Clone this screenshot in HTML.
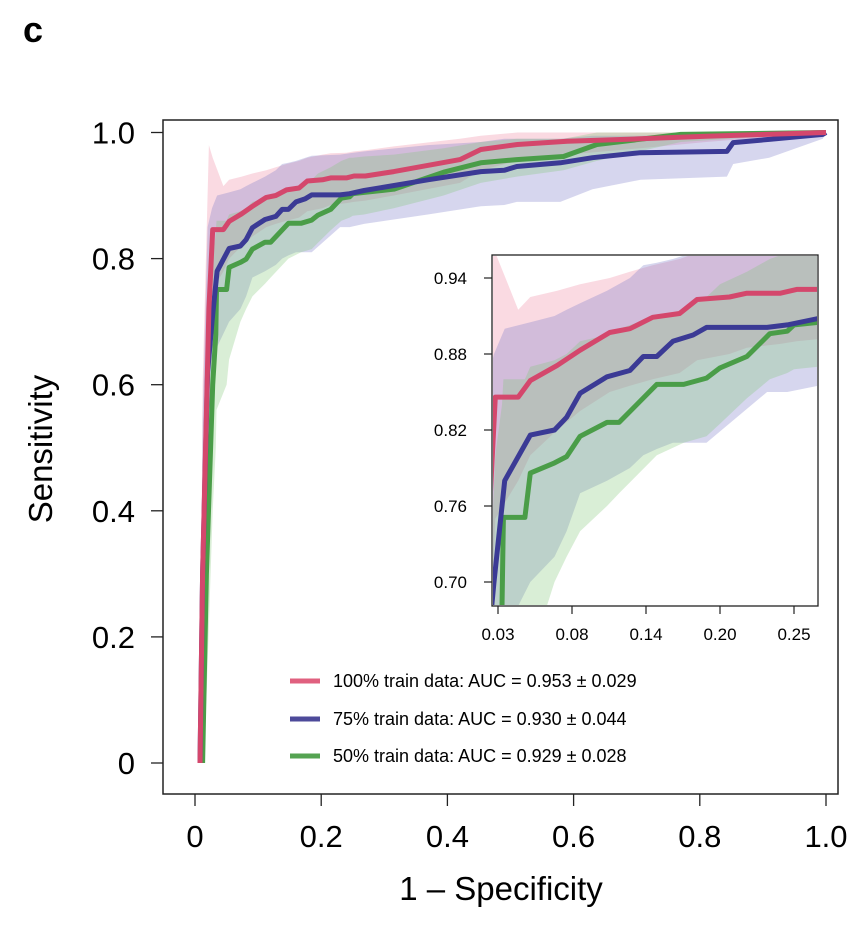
<!DOCTYPE html>
<html><head><meta charset="utf-8"><style>
html,body{margin:0;padding:0;background:#fff;overflow:hidden;width:862px;height:938px;}
svg{display:block;font-family:"Liberation Sans",Arial,sans-serif;}
</style></head><body>
<svg id="chart" width="862" height="938" viewBox="0 0 862 938">
<text x="23" y="42" font-size="36" font-weight="bold">c</text>
<defs>
<clipPath id="mainClip"><rect x="164" y="121" width="673" height="672"/></clipPath>
<clipPath id="insetClip"><rect x="493" y="256" width="324" height="349"/></clipPath>
</defs>
<g id="mainPlot"></g>
<rect x="163" y="120" width="675" height="674" fill="none" stroke="#222" stroke-width="1.5"/>
<g id="mainAxes"></g>
<text x="501" y="900" font-size="33" text-anchor="middle">1 – Specificity</text>
<text transform="translate(52,449) rotate(-90)" font-size="33" text-anchor="middle">Sensitivity</text>
<rect x="492" y="255" width="326" height="351" fill="#fff"/>
<g id="insetPlot"></g>
<rect x="492" y="255" width="326" height="351" fill="none" stroke="#222" stroke-width="1.3"/>
<g id="insetAxes"></g>
<g id="legend"></g>
</svg>
<script>
// ---- data ----
const redX = [0.008,0.012,0.022,0.028,0.045,0.054,0.074,0.091,0.113,0.128,0.145,0.165,0.178,0.202,0.215,0.24,0.252,0.27,0.315,0.42,0.453,0.511,0.59,0.706,0.81,1.0];
const redY = [0,0.3,0.72,0.846,0.846,0.859,0.871,0.883,0.897,0.90,0.909,0.912,0.923,0.925,0.928,0.928,0.931,0.931,0.938,0.957,0.973,0.981,0.986,0.99,0.994,1.0];
const redUpper = [0.05,0.6,0.98,0.96,0.915,0.925,0.93,0.935,0.94,0.945,0.95,0.955,0.96,0.965,0.967,0.968,0.97,0.972,0.978,0.99,0.995,1,1,1,1,1];
const redLower = [0,0.1,0.6,0.75,0.78,0.80,0.82,0.835,0.85,0.855,0.86,0.865,0.875,0.88,0.885,0.888,0.89,0.892,0.9,0.92,0.94,0.955,0.965,0.975,0.985,1];

const blueX = [0.008,0.012,0.02,0.027,0.035,0.054,0.072,0.081,0.091,0.111,0.128,0.138,0.148,0.16,0.175,0.185,0.23,0.245,0.268,0.369,0.453,0.49,0.51,0.579,0.63,0.706,0.843,0.853,0.91,0.995,1.0];
const blueY = [0,0.3,0.62,0.70,0.78,0.816,0.82,0.83,0.849,0.862,0.867,0.878,0.878,0.89,0.895,0.901,0.901,0.903,0.908,0.925,0.938,0.94,0.946,0.952,0.96,0.968,0.970,0.984,0.989,0.997,1.0];
const blueUpper = [0.05,0.55,0.85,0.88,0.90,0.905,0.91,0.915,0.92,0.93,0.94,0.95,0.952,0.955,0.96,0.963,0.965,0.967,0.97,0.98,0.985,0.99,0.99,0.99,0.995,0.995,1,1,1,1,1];
const blueLower = [0,0.1,0.45,0.6,0.66,0.70,0.72,0.74,0.77,0.78,0.79,0.80,0.805,0.81,0.81,0.81,0.85,0.85,0.855,0.87,0.883,0.885,0.89,0.89,0.91,0.925,0.93,0.95,0.96,0.99,1];

const greenX = [0.012,0.018,0.028,0.033,0.034,0.05,0.054,0.072,0.081,0.091,0.111,0.12,0.148,0.168,0.185,0.195,0.215,0.232,0.245,0.25,0.268,0.315,0.394,0.453,0.51,0.584,0.637,0.77,1.0];
const greenY = [0,0.3,0.6,0.68,0.751,0.751,0.786,0.794,0.799,0.815,0.826,0.826,0.856,0.856,0.861,0.869,0.878,0.896,0.898,0.903,0.905,0.91,0.937,0.952,0.957,0.962,0.981,0.997,1.0];
const greenUpper = [0.05,0.55,0.8,0.84,0.86,0.86,0.87,0.875,0.88,0.89,0.895,0.9,0.91,0.915,0.925,0.935,0.945,0.955,0.96,0.96,0.962,0.965,0.975,0.985,0.99,0.99,1,1,1];
const greenLower = [0,0.1,0.4,0.5,0.56,0.6,0.64,0.7,0.72,0.74,0.76,0.77,0.8,0.81,0.815,0.825,0.845,0.86,0.865,0.868,0.87,0.88,0.9,0.92,0.93,0.94,0.955,0.985,1];

const mainXTicks = [0,0.2,0.4,0.6,0.8,1.0];
const mainXLabels = ["0","0.2","0.4","0.6","0.8","1.0"];
const mainYTicks = [0,0.2,0.4,0.6,0.8,1.0];
const mainYLabels = ["0","0.2","0.4","0.6","0.8","1.0"];
const insetXTicks = [0.03,0.085,0.14,0.195,0.25];
const insetXLabels = ["0.03","0.08","0.14","0.20","0.25"];
const insetYTicks = [0.70,0.76,0.82,0.88,0.94];
const insetYLabels = ["0.70","0.76","0.82","0.88","0.94"];
const legendLabels = ["100% train data: AUC = 0.953 ± 0.029","75% train data: AUC = 0.930 ± 0.044","50% train data: AUC = 0.929 ± 0.028"];

// ---- scales ----
const mx = v => 195 + v*631;
const my = v => 763 - v*630.5;
const ix = v => 498 + (v-0.03)*(74/0.055);
const iy = v => 278 + (0.94-v)*(76/0.06);

const NS = "http://www.w3.org/2000/svg";
function mk(tag, attrs, parent){
  const e = document.createElementNS(NS, tag);
  for (const k in attrs) e.setAttribute(k, attrs[k]);
  parent.appendChild(e); return e;
}
const series = [
  {name:"100", X:redX, Y:redY, U:redUpper, L:redLower, line:"#d4476c", band:"rgba(240,140,165,0.32)"},
  {name:"75", X:blueX, Y:blueY, U:blueUpper, L:blueLower, line:"#3b3a95", band:"rgba(120,120,200,0.30)"},
  {name:"50", X:greenX, Y:greenY, U:greenUpper, L:greenLower, line:"#4a9d48", band:"rgba(130,200,120,0.30)"}
];
function linePts(X,Y,sx,sy){return X.map((x,i)=>sx(x).toFixed(1)+","+sy(Y[i]).toFixed(1)).join(" ");}
function drawPlot(g, sx, sy, clip, lw, prefix){
  const cg = mk("g", {"clip-path":"url(#"+clip+")"}, g);
  series.forEach(s=>{
    const up = s.X.map((x,i)=>sx(x).toFixed(1)+","+sy(s.U[i]).toFixed(1));
    const lo = s.X.map((x,i)=>sx(x).toFixed(1)+","+sy(s.L[i]).toFixed(1)).reverse();
    const b = mk("polygon", {points: up.concat(lo).join(" "), fill:s.band, stroke:"none"}, cg);
    
    
  });
  [2,1,0].forEach(k=>{
    const s = series[k];
    const l = mk("polyline", {points: linePts(s.X,s.Y,sx,sy), fill:"none", stroke:s.line, "stroke-width":lw, "stroke-linejoin":"round"}, cg);
    
    
  });
}
drawPlot(document.getElementById("mainPlot"), mx, my, "mainClip", 5, "main");
drawPlot(document.getElementById("insetPlot"), ix, iy, "insetClip", 5, "inset");

const ma = document.getElementById("mainAxes");
mainXTicks.forEach((v,i)=>{
  const t = mk("line", {x1:mx(v), x2:mx(v), y1:794, y2:806, stroke:"#222","stroke-width":1.3}, ma);
  
  
  const tx = mk("text", {x:mx(v), y:847, "font-size":31, "text-anchor":"middle"}, ma);
  tx.textContent = mainXLabels[i];
  
  
});
mainYTicks.forEach((v,i)=>{
  const t = mk("line", {x1:151, x2:163, y1:my(v), y2:my(v), stroke:"#222","stroke-width":1.3}, ma);
  
  
  const tx = mk("text", {x:135, y:my(v)+11, "font-size":31, "text-anchor":"end"}, ma);
  tx.textContent = mainYLabels[i];
  
  
});
const ia = document.getElementById("insetAxes");
insetXTicks.forEach((v,i)=>{
  const t = mk("line", {x1:ix(v), x2:ix(v), y1:606, y2:614, stroke:"#222","stroke-width":1.2}, ia);
  
  
  const tx = mk("text", {x:ix(v), y:640, "font-size":17, "text-anchor":"middle"}, ia);
  tx.textContent = insetXLabels[i];
  
  
});
insetYTicks.forEach((v,i)=>{
  const t = mk("line", {x1:484, x2:492, y1:iy(v), y2:iy(v), stroke:"#222","stroke-width":1.2}, ia);
  
  
  const tx = mk("text", {x:467, y:iy(v)+6, "font-size":17, "text-anchor":"end"}, ia);
  tx.textContent = insetYLabels[i];
  
  
});
const lg = document.getElementById("legend");
const legY = [681,719,756];
const legCol = ["#e0607f","#4d4a9a","#55a352"];
legendLabels.forEach((s,i)=>{
  const l = mk("line", {x1:290, x2:320, y1:legY[i], y2:legY[i], stroke:legCol[i], "stroke-width":5}, lg);
  
  
  const tx = mk("text", {x:333, y:legY[i]+6, "font-size":18}, lg);
  tx.textContent = s;
  
  
});
</script>
</body></html>
